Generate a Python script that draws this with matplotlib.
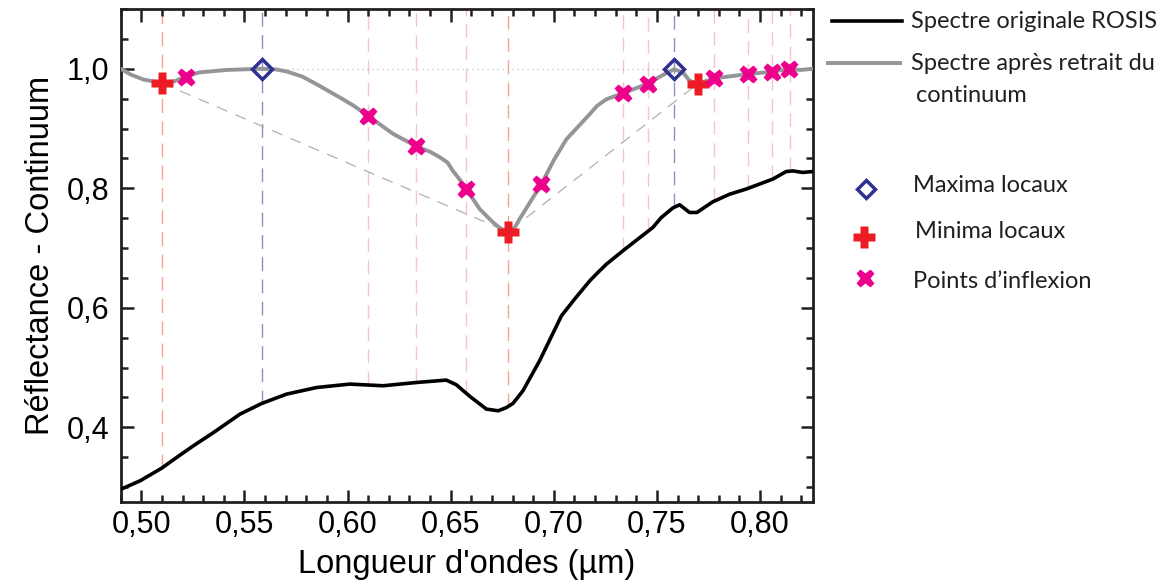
import numpy as np
import matplotlib.pyplot as plt
from matplotlib.lines import Line2D
from matplotlib.ticker import MultipleLocator, FuncFormatter

# spectre original ROSIS
rosis_x = [0.4905, 0.4994, 0.5099, 0.5171, 0.5252, 0.5349, 0.5478, 0.5583, 0.5704,
           0.585, 0.6011, 0.6172, 0.6334, 0.6479, 0.6528, 0.6592, 0.6673, 0.673,
           0.677, 0.6802, 0.685, 0.6931, 0.7037, 0.7101, 0.7174, 0.7206, 0.7255,
           0.7335, 0.748, 0.7521, 0.7577, 0.761, 0.7658, 0.7694, 0.7771, 0.7852,
           0.7933, 0.8062, 0.8127, 0.8159, 0.8207, 0.8256]
rosis_y = [0.297, 0.3105, 0.3317, 0.3495, 0.369, 0.391, 0.422, 0.4398, 0.4555,
           0.4666, 0.4723, 0.4695, 0.475, 0.479, 0.471, 0.452, 0.4305, 0.4276,
           0.433, 0.440, 0.461, 0.5113, 0.5866, 0.6146, 0.645, 0.6564, 0.673,
           0.6954, 0.7344, 0.751, 0.767, 0.7724, 0.7595, 0.7595, 0.7774, 0.790,
           0.7987, 0.8154, 0.828, 0.829, 0.8265, 0.828]

# spectre apres retrait du continuum
cr_x = [0.490, 0.495, 0.501, 0.5099, 0.5160, 0.5215, 0.5284, 0.5350, 0.5413, 0.5500,
        0.5583, 0.5650, 0.5704, 0.5780, 0.585, 0.5962, 0.603, 0.610, 0.6221, 0.6334,
        0.6400, 0.6447, 0.6485, 0.6511, 0.6545, 0.6576, 0.6610, 0.6641, 0.6705, 0.6740,
        0.6778, 0.6810, 0.6835, 0.6880, 0.694, 0.7000, 0.7061, 0.7158, 0.7210, 0.7255,
        0.7335, 0.7456, 0.7521, 0.7582, 0.7626, 0.7658, 0.7698, 0.7779, 0.794, 0.8057,
        0.8139, 0.820, 0.8256]
cr_y = [1.0, 0.990, 0.982, 0.976, 0.979, 0.987, 0.994, 0.996, 0.998, 0.999,
        1.0, 0.999, 0.9955, 0.987, 0.974, 0.952, 0.938, 0.921, 0.891, 0.870,
        0.861, 0.852, 0.843, 0.829, 0.814, 0.799, 0.781, 0.765, 0.743, 0.733,
        0.727, 0.734, 0.749, 0.774, 0.807, 0.847, 0.882, 0.918, 0.938, 0.949,
        0.959, 0.975, 0.988, 0.999, 0.994, 0.980, 0.975, 0.984, 0.991, 0.995,
        0.9995, 0.998, 1.0]

# points caracteristiques
max_x = [0.5583, 0.7582]
max_y = [1.0, 0.999]
min_x = [0.5099, 0.6778, 0.7698]
min_y = [0.976, 0.727, 0.975]
infl_x = [0.5215, 0.610, 0.6334, 0.6576, 0.694, 0.7335, 0.7456, 0.7779, 0.794, 0.8057, 0.8139]
infl_y = [0.987, 0.921, 0.870, 0.799, 0.807, 0.959, 0.975, 0.984, 0.991, 0.995, 0.9995]

# lignes verticales de repere
guide_min = [0.5099, 0.6778]
guide_max = [0.5583, 0.7582]
guide_infl = [0.610, 0.6334, 0.6576, 0.7335, 0.7456, 0.7779, 0.794, 0.8057, 0.8146]

fig = plt.figure(figsize=(11.71, 5.87), dpi=100)
ax = fig.add_axes([0.1031, 0.1448, 0.5914, 0.8399])

ymax = 1.1
for xs, col in [(guide_min, '#f4a58e'), (guide_max, '#8f8fc8'), (guide_infl, '#f6c3d6')]:
    for gx in xs:
        y0 = np.interp(gx, rosis_x, rosis_y)
        ax.plot([gx, gx], [y0, ymax], color=col, lw=1, dashes=(10, 6), zorder=1)

# enveloppe convexe et ligne des maxima
ax.plot(min_x, min_y, color='#b0b0b0', lw=0.9, dashes=(9, 7), zorder=2)
ax.plot(max_x, [1.0, 1.0], color='#c0c0c0', lw=0.9, ls=(0, (1, 3)), zorder=2)

ax.plot(rosis_x, rosis_y, color='black', lw=2.6, zorder=3)
ax.plot(cr_x, cr_y, color='#939598', lw=2.8, zorder=3)

ax.plot(max_x, max_y, 'D', ms=10, mfc='none', mec='#2e3192', mew=2.5, ls='none', zorder=5)
ax.plot(min_x, min_y, 'P', ms=16, color='#ed1c24', mec='none', ls='none', zorder=5)
ax.plot(infl_x, infl_y, 'X', ms=13, color='#ec008c', mec='none', ls='none', zorder=5)

ax.set_xlim(0.49, 0.8258)
ax.set_ylim(0.275, ymax)
ax.xaxis.set_major_locator(MultipleLocator(0.05))
ax.xaxis.set_minor_locator(MultipleLocator(0.01))
ax.yaxis.set_major_locator(MultipleLocator(0.2))
ax.yaxis.set_minor_locator(MultipleLocator(0.05))
ax.xaxis.set_major_formatter(FuncFormatter(lambda v, p: f"{v:.2f}".replace('.', ',')))
ax.yaxis.set_major_formatter(FuncFormatter(lambda v, p: f"{v:.1f}".replace('.', ',')))
ax.tick_params(which='both', direction='in', top=True, right=True, width=1.8, color='#231f20')
ax.tick_params(which='major', length=9, labelsize=22)
ax.tick_params(axis='x', which='major', pad=6)
ax.tick_params(axis='y', which='major', pad=8)
ax.tick_params(which='minor', length=5)
for lab in ax.get_xticklabels() + ax.get_yticklabels():
    lab.set_family('Liberation Sans')
for s in ax.spines.values():
    s.set_linewidth(2)
    s.set_color('#231f20')

ax.set_xlabel("Longueur d'ondes (µm)", fontsize=23.5, family='Liberation Sans', labelpad=6)
ax.set_ylabel("Réflectance - Continuum", fontsize=23.5, family='Liberation Sans', labelpad=8)

# legende placee a la main
W, H = 1171, 587
def fx(px):
    return px / W
def fy(py):
    return 1 - py / H

lfont = dict(family='Lato', fontsize=17, va='center', ha='left', color='#231f20')
fig.add_artist(Line2D([fx(832), fx(902)], [fy(21), fy(21)], color='black', lw=2.6))
fig.text(fx(911), fy(21), "Spectre originale ROSIS", **lfont)
fig.add_artist(Line2D([fx(828), fx(900)], [fy(63), fy(63)], color='#939598', lw=2.8))
fig.text(fx(911), fy(64), "Spectre après retrait du", **lfont)
fig.text(fx(916), fy(96), "continuum", **lfont)
fig.add_artist(Line2D([fx(866)], [fy(189)], marker='D', ms=9, mfc='none', mec='#2e3192', mew=2.5))
fig.text(fx(913), fy(186), "Maxima locaux", **lfont)
fig.add_artist(Line2D([fx(864)], [fy(237)], marker='P', ms=16, color='#ed1c24', mec='none'))
fig.text(fx(915), fy(232), "Minima locaux", **lfont)
fig.add_artist(Line2D([fx(865)], [fy(278)], marker='X', ms=13, color='#ec008c', mec='none'))
fig.text(fx(913), fy(281), "Points d\u2019inflexion", **lfont)

fig.savefig('out.png', dpi=100)
